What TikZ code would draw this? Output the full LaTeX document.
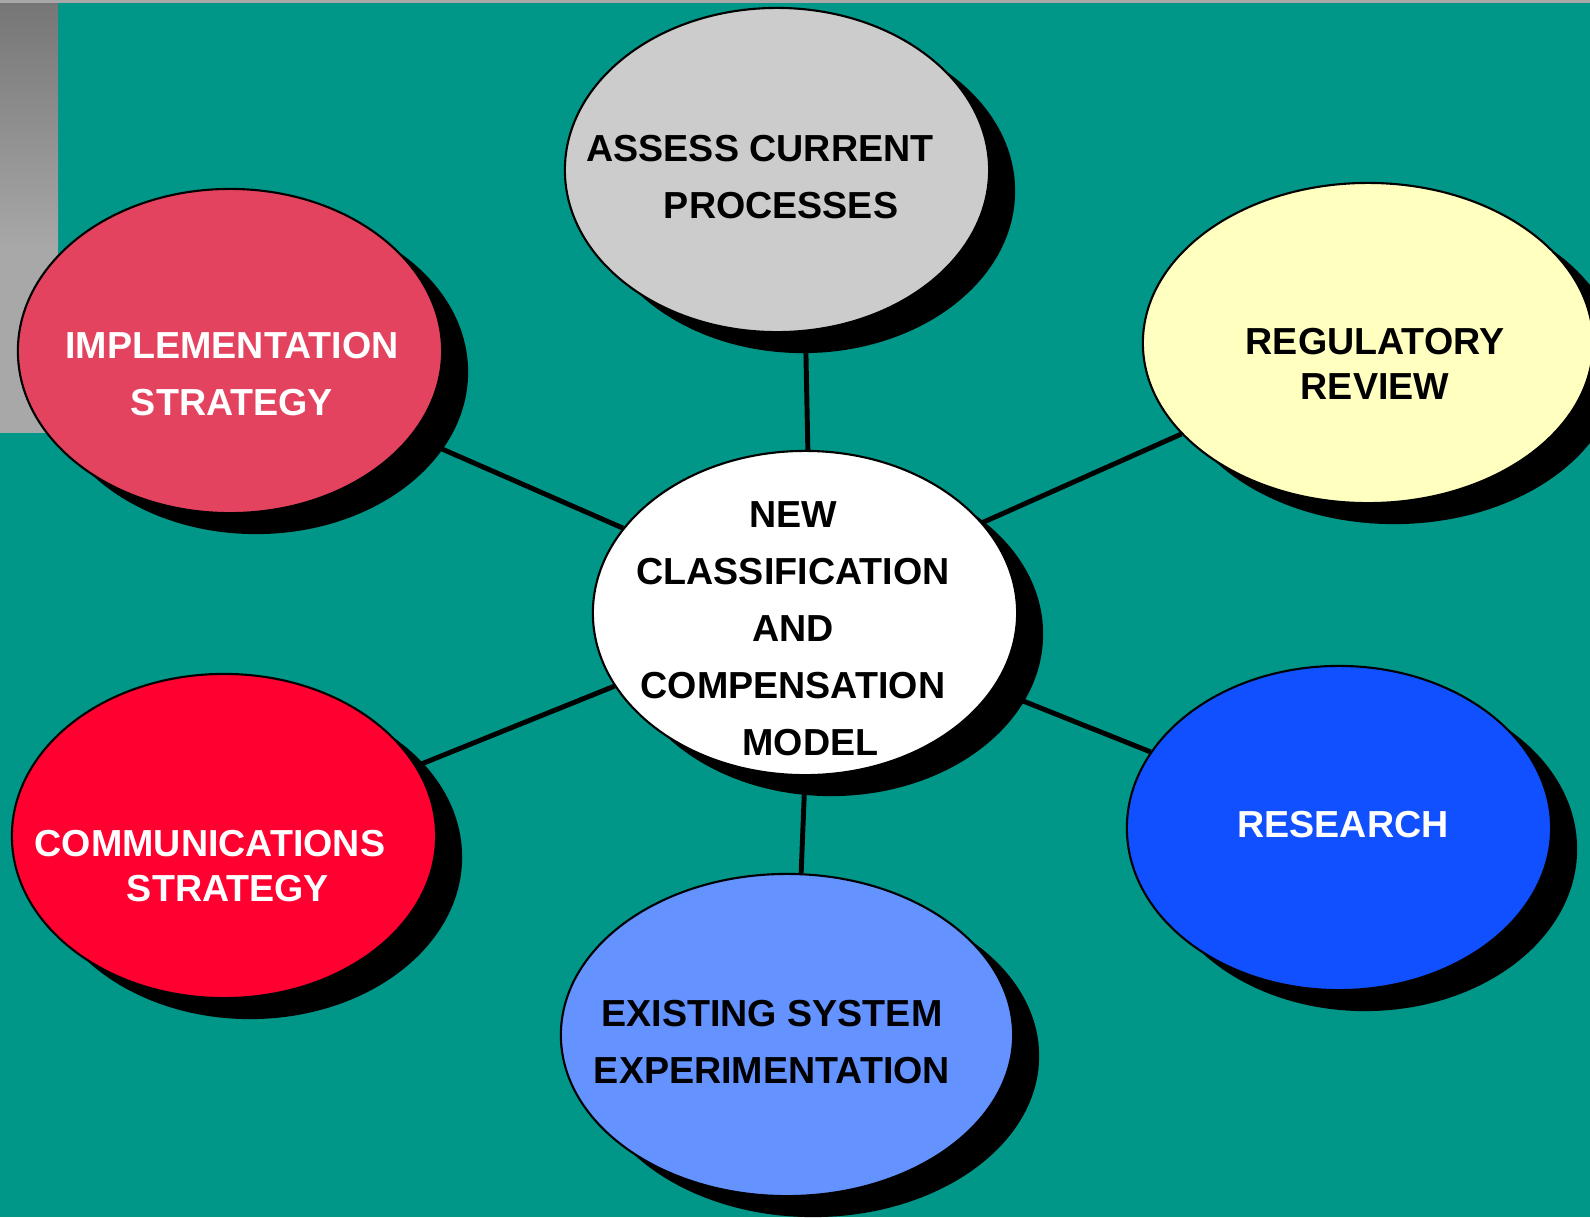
\documentclass[tikz,border=0pt]{standalone}
\usepackage{fontspec}
\setmainfont{Liberation Sans}
\usepackage{xcolor}
\usepackage{tikz}
\usetikzlibrary{shapes.geometric,shadows}
\definecolor{sea}{HTML}{009688}
\definecolor{barGray}{HTML}{A8A8A8}
\definecolor{stripTop}{HTML}{767676}
\definecolor{assessFill}{HTML}{CCCCCC}
\definecolor{implFill}{HTML}{E4435F}
\definecolor{regFill}{HTML}{FFFFC0}
\definecolor{commFill}{HTML}{FF0030}
\definecolor{resFill}{HTML}{1150FF}
\definecolor{existFill}{HTML}{6492FF}
\tikzset{
  bubble/.style={ellipse, draw=black, line width=0.6pt, inner sep=0pt,
    minimum width=4.24cm, minimum height=3.24cm,
    drop shadow={shadow xshift=0.26cm, shadow yshift=-0.21cm, fill=black, opacity=1}},
  bubbleText/.style={align=center, inner sep=0pt,
    font=\fontsize{10.7}{16.2}\selectfont\bfseries},
  bubbleTight/.style={bubbleText, font=\fontsize{10.7}{12.7}\selectfont\bfseries},
  spoke/.style={draw=black, line width=1.4pt}
}

\begin{document}
\begin{tikzpicture}[x=0.01cm, y=-0.01cm]
  \useasboundingbox (0,0) rectangle (1590,1217);
  \clip (0,0) rectangle (1590,1217);
  \fill[sea] (0,0) rectangle (1590,1217);
  \fill[barGray] (0,0) rectangle (1590,3);
  \shade[top color=stripTop, bottom color=barGray] (0,3) rectangle (58,250);
  \fill[barGray] (0,250) rectangle (58,433);

  % bubbles
  \node[bubble, fill=assessFill] (assess) at (777,170) {};
  \node[bubble, fill=implFill] (impl) at (230,351) {};
  \node[bubble, fill=regFill, minimum width=4.5cm, minimum height=3.2cm] (reg) at (1368,343) {};
  \node[bubble, fill=white] (ctr) at (805,613) {};
  \node[bubble, fill=commFill] (comm) at (224,836) {};
  \node[bubble, fill=resFill] (res) at (1339,828) {};
  \node[bubble, fill=existFill, minimum width=4.52cm, minimum height=3.22cm] (exist) at (787,1035) {};

  % spokes
  \draw[spoke] (assess.-80) -- (ctr.89);
  \draw[spoke] (impl.-25) -- (ctr.155);
  \draw[spoke] (reg.-154) -- (ctr.27);
  \draw[spoke] (comm.20) -- (ctr.-159);
  \draw[spoke] (res.158) -- (ctr.-22);
  \draw[spoke] (exist.85) -- (ctr.-90);

  % labels
  \node[bubbleText] (assessTxt) at (760,177) {ASSESS CURRENT\\\hspace*{0.42cm}PROCESSES};
  \node[bubbleText, text=white] (implTxt) at (232,374) {IMPLEMENTATION\\STRATEGY};
  \node[bubbleTight] (regTxt) at (1375,364) {REGULATORY\\REVIEW};
  \node[bubbleText] (ctrTxt) at (793,629) {NEW\\CLASSIFICATION\\AND\\COMPENSATION\\\hspace*{0.35cm}MODEL};
  \node[bubbleTight, text=white] (commTxt) at (210,866) {COMMUNICATIONS\\\hspace*{0.36cm}STRATEGY};
  \node[bubbleText, text=white] (resTxt) at (1343,825) {RESEARCH};
  \node[bubbleText] (existTxt) at (772,1042) {EXISTING SYSTEM\\EXPERIMENTATION};
\end{tikzpicture}
\end{document}
